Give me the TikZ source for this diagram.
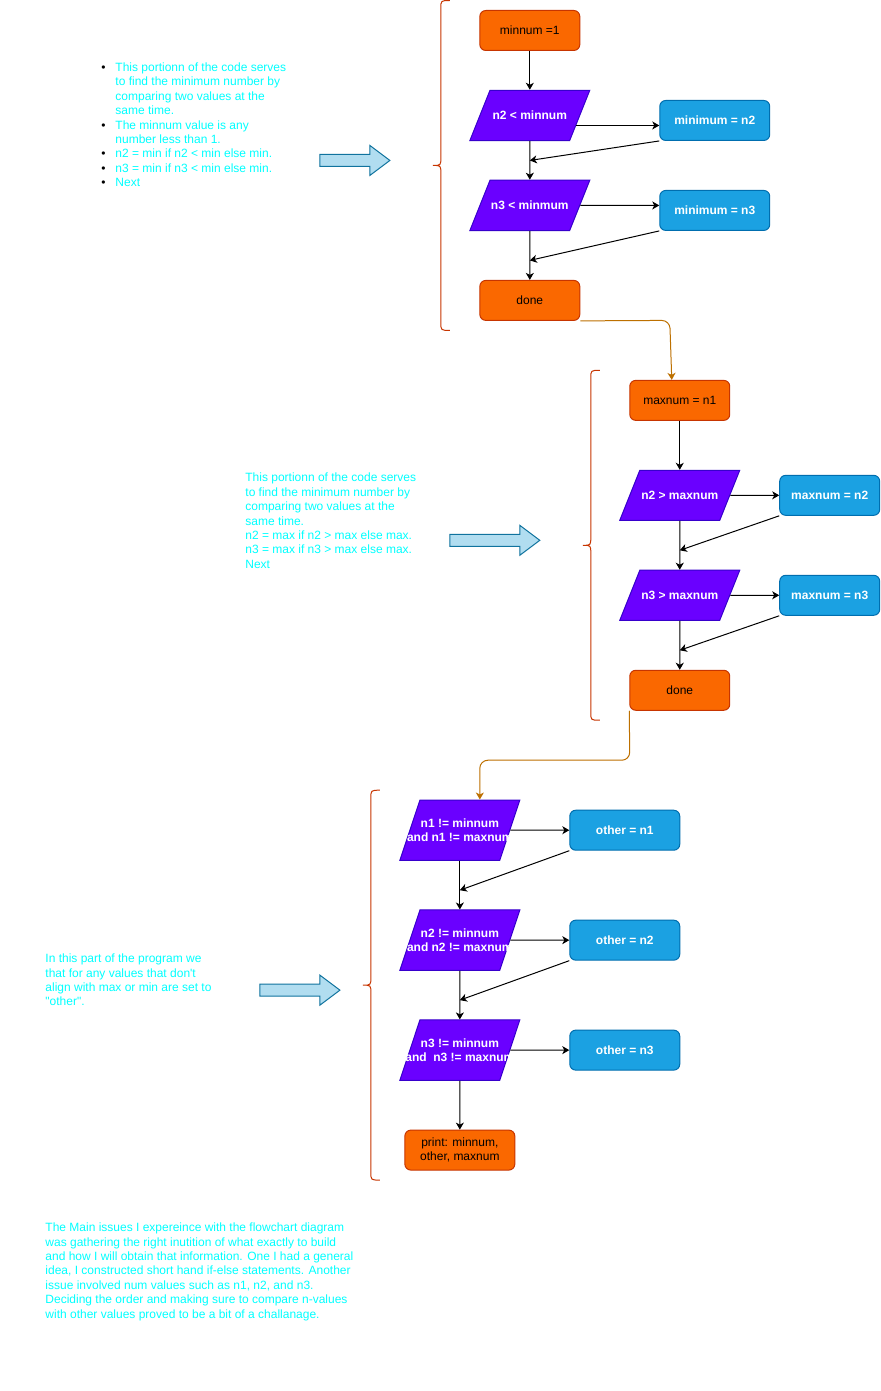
\documentclass[tikz,border=0pt]{standalone}
\usepackage{fontspec}
\setmainfont{Liberation Sans}[Ligatures=TeXOff]
\usetikzlibrary{arrows.meta,shapes.geometric}

\definecolor{startfill}{HTML}{FA6800}
\definecolor{startline}{HTML}{C73500}
\definecolor{testfill}{HTML}{6A00FF}
\definecolor{testline}{HTML}{3700CC}
\definecolor{setfill}{HTML}{1BA1E2}
\definecolor{setline}{HTML}{006EAF}
\definecolor{hintfill}{HTML}{B1DDF0}
\definecolor{hintline}{HTML}{10739E}
\definecolor{linkline}{HTML}{BD7000}
\definecolor{notetext}{HTML}{00FFFF}

\tikzset{
    base/.style={inner sep=0pt, line width=1pt, font=\fontsize{12}{14.4}\selectfont},
    startbox/.style={base, draw=startline, fill=startfill, rounded corners=6pt,
        minimum width=100pt, minimum height=40pt, align=center},
    test/.style={base, trapezium, trapezium left angle=68.2, trapezium right angle=111.8,
        trapezium stretches body, draw=testline, fill=testfill, text=white,
        font=\fontsize{12}{14.4}\selectfont\bfseries, inner ysep=20.8pt,
        minimum width=120pt, minimum height=50pt, align=center},
    bigtest/.style={test, trapezium left angle=71.6, trapezium right angle=108.4,
        inner ysep=18.6pt, minimum height=60pt},
    setbox/.style={base, draw=setline, fill=setfill, rounded corners=6pt, text=white,
        font=\fontsize{12}{14.4}\selectfont\bfseries,
        minimum width=110pt, minimum height=40pt},
    note/.style={base, text=notetext, anchor=north west},
    flow/.style={line width=1pt, -{Stealth[length=7pt,width=8pt,inset=2pt]}},
    link/.style={flow, draw=linkline, rounded corners=8pt},
    bracket/.style={line width=1pt, draw=startline},
    hint/.style={line width=1pt, draw=hintline, fill=hintfill},
}

\begin{document}
\begin{tikzpicture}[x=1pt, y=-1pt]
    \fill[white] (0,0) rectangle (881,1391);

    % notes
    \node[note] (intro) at (101,60.5) {\begin{tabular}{@{}l@{\hspace{9.8pt}}l@{}}
        {\color{black}\textbullet} & This portionn of the code serves\\
         & to find the minimum number by\\
         & comparing two values at the\\
         & same time.\\
        {\color{black}\textbullet} & The minnum value is any\\
         & number less than 1.\\
        {\color{black}\textbullet} & n2 = min if n2 < min else min.\\
        {\color{black}\textbullet} & n3 = min if n3 < min else min.\\
        {\color{black}\textbullet} & Next
    \end{tabular}};
    \node[note] (maxnote) at (245,471) {\begin{tabular}{@{}l@{}}
        This portionn of the code serves\\
        to find the minimum number by\\
        comparing two values at the\\
        same time.\\
        n2 = max if n2 > max else max.\\
        n3 = max if n3 > max else max.\\
        Next
    \end{tabular}};
    \node[note] (othernote) at (45,952) {\begin{tabular}{@{}l@{}}
        In this part of the program we\\
        that for any values that don't\\
        align with max or min are set to\\
        "other".
    \end{tabular}};
    \node[note] (issues) at (45,1221) {\begin{tabular}{@{}l@{}}
        The Main issues I expereince with the flowchart diagram\\
        was gathering the right inutition of what exactly to build\\
        and how I will obtain that information. One I had a general\\
        idea, I constructed short hand if-else statements. Another\\
        issue involved num values such as n1, n2, and n3.\\
        Deciding the order and making sure to compare n-values\\
        with other values proved to be a bit of a challanage.
    \end{tabular}};

    % pointers and braces
    \foreach \ax/\ay/\al in {320/160/70, 450/540/90, 260/990/80}
        \draw[hint] (\ax,\ay-6) -- (\ax+\al-20,\ay-6) -- (\ax+\al-20,\ay-15)
            -- (\ax+\al,\ay) -- (\ax+\al-20,\ay+15) -- (\ax+\al-20,\ay+6)
            -- (\ax,\ay+6) -- cycle;
    \foreach \bx/\by/\bh in {441/0/330, 591/370/350, 371/790/390}
        \draw[bracket] (\bx+9,\by) .. controls (\bx,\by) .. (\bx,\by+8)
            -- (\bx,\by+\bh/2-8) .. controls (\bx,\by+\bh/2) .. (\bx-8,\by+\bh/2)
            .. controls (\bx,\by+\bh/2) .. (\bx,\by+\bh/2+8)
            -- (\bx,\by+\bh-8) .. controls (\bx,\by+\bh) .. (\bx+9,\by+\bh);

    % minimum
    \node[startbox] (minnum) at (530,30) {minnum =1};
    \node[test] (d1) at (530,115) {n2 < minnum};
    \node[setbox] (p1) at (715,120) {minimum = n2};
    \node[test] (d2) at (530,205) {n3 < minmum};
    \node[setbox] (p2) at (715,210) {minimum = n3};
    \node[startbox] (done1) at (530,300) {done};
    \coordinate (j1) at (530,160);
    \coordinate (j2) at (530,260);

    % maximum
    \node[startbox] (maxnum) at (680,400) {maxnum = n1};
    \node[test] (d3) at (680,495) {n2 > maxnum};
    \node[setbox, minimum width=100pt] (p3) at (830,495) {maxnum = n2};
    \node[test] (d4) at (680,595) {n3 > maxnum};
    \node[setbox, minimum width=100pt] (p4) at (830,595) {maxnum = n3};
    \node[startbox] (done2) at (680,690) {done};
    \coordinate (j3) at (680,550);
    \coordinate (j4) at (680,650);

    % other
    \node[bigtest] (d5) at (460,830) {\makebox[60pt]{n1 != minnum}\\\makebox[60pt]{and n1 != maxnum}};
    \node[setbox] (p5) at (625,830) {other = n1};
    \node[bigtest] (d6) at (460,940) {\makebox[60pt]{n2 != minnum}\\\makebox[60pt]{and n2 != maxnum}};
    \node[setbox] (p6) at (625,940) {other = n2};
    \node[bigtest] (d7) at (460,1050) {\makebox[60pt]{n3 != minnum}\\\makebox[60pt]{and\ \ n3 != maxnum}};
    \node[setbox] (p7) at (625,1050) {other = n3};
    \node[startbox, minimum width=110pt] (print) at (460,1150) {print: minnum,\\other, maxnum};
    \coordinate (j5) at (460,890);
    \coordinate (j6) at (460,1000);

    % connectors
    \draw[flow] (minnum) -- (d1);
    \draw[flow] ([xshift=-4pt,yshift=-10pt]d1.east) -- ([yshift=-5pt]p1.west);
    \draw[flow] (p1.south west) -- (j1);
    \draw[flow] (d1.south) -- (d2.north);
    \draw[flow] (d2.east) -- ([yshift=5pt]p2.west);
    \draw[flow] (p2.south west) -- (j2);
    \draw[flow] (d2.south) -- (done1.north);
    \draw[link] (done1.south east) -- (670,320) -- ([xshift=-8pt]maxnum.north);

    \draw[flow] (maxnum) -- (d3);
    \draw[flow] (d3.east) -- (p3.west);
    \draw[flow] (p3.south west) -- (j3);
    \draw[flow] (d3.south) -- (d4.north);
    \draw[flow] (d4.east) -- (p4.west);
    \draw[flow] (p4.south west) -- (j4);
    \draw[flow] (d4.south) -- (done2.north);
    \draw[link] (done2.south west) -- (630,760) -- (480,760) -- ([xshift=20pt]d5.north);

    \draw[flow] (d5.east) -- (p5.west);
    \draw[flow] (p5.south west) -- (j5);
    \draw[flow] (d5.south) -- (d6.north);
    \draw[flow] (d6.east) -- (p6.west);
    \draw[flow] (p6.south west) -- (j6);
    \draw[flow] (d6.south) -- (d7.north);
    \draw[flow] (d7.east) -- (p7.west);
    \draw[flow] (d7.south) -- (print.north);
\end{tikzpicture}
\end{document}
